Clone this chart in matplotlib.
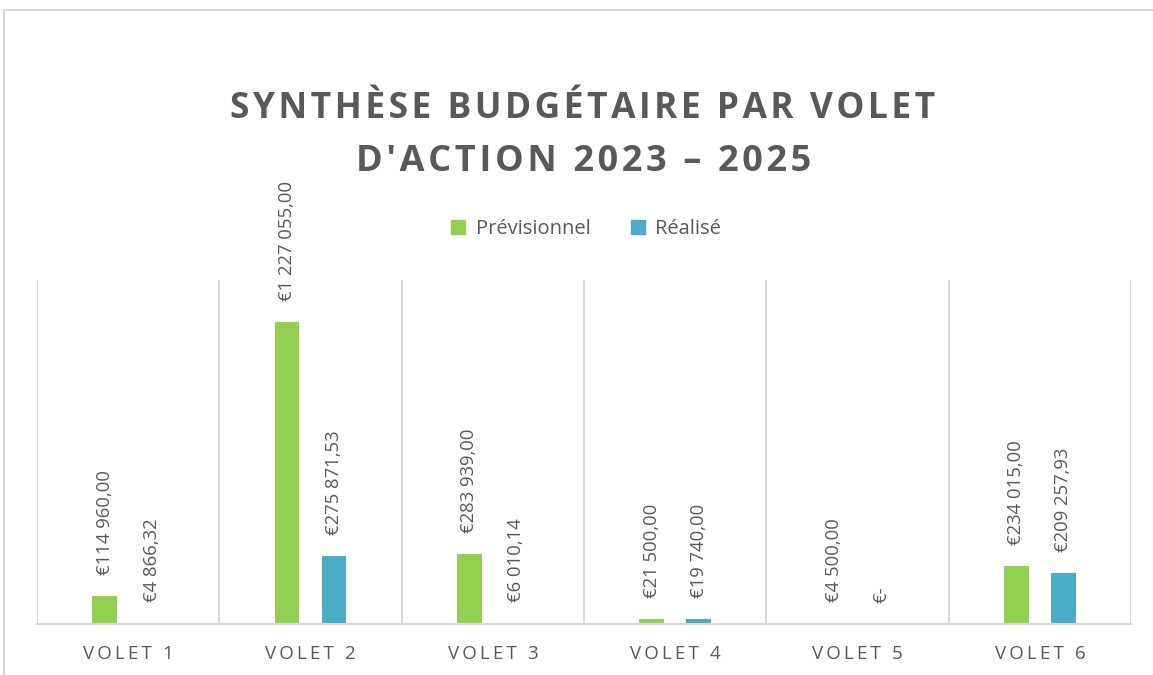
import numpy as np
import matplotlib.pyplot as plt
from matplotlib.lines import Line2D
from matplotlib.patches import Rectangle

categories = ["VOLET 1", "VOLET 2", "VOLET 3", "VOLET 4", "VOLET 5", "VOLET 6"]
previsionnel = [114960.00, 1227055.00, 283939.00, 21500.00, 4500.00, 234015.00]
realise = [4866.32, 275871.53, 6010.14, 19740.00, 0.0, 209257.93]

GREEN = "#92d050"
BLUE = "#4bacc6"
GREY = "#595959"
LINE = "#d9d9d9"
FONT = ["Open Sans", "DejaVu Sans"]


def euro(v):
    if v == 0:
        return "€-"
    s = f"{v:,.2f}"
    s = s.replace(",", " ").replace(".", ",")
    return "€" + s


def spaced(txt, sep="\u200a"):
    return sep.join(txt)


fig = plt.figure(figsize=(11.53, 6.75), dpi=100)
ax = fig.add_axes([37 / 1153, 1 - 624 / 675, (1131 - 37) / 1153, (624 - 280) / 675])

x = np.arange(len(categories))
w = 0.135
off = 0.129
ax.bar(x - off, previsionnel, w, color=GREEN, zorder=2)
ax.bar(x + off, realise, w, color=BLUE, zorder=2)

ax.set_ylim(0, 1.4e6)
ax.set_xlim(-0.5, len(categories) - 0.5)

for b in np.arange(-0.5, len(categories), 1.0):
    ax.axvline(b, color=LINE, lw=1.5, zorder=1)

pad = 1.4e6 * 21 / 344
for xi, v in zip(x - off, previsionnel):
    ax.text(xi, v + pad, euro(v), rotation=90, ha="center", va="bottom",
            fontsize=13.3, color=GREY, family=FONT, zorder=4)
for xi, v in zip(x + off, realise):
    ax.text(xi, v + pad, euro(v), rotation=90, ha="center", va="bottom",
            fontsize=13.3, color=GREY, family=FONT, zorder=4)

for s in ["top", "right", "left"]:
    ax.spines[s].set_visible(False)
ax.spines["bottom"].set_color(LINE)
ax.spines["bottom"].set_linewidth(1.5)
ax.spines["bottom"].set_zorder(3)
ax.set_yticks([])
ax.set_xticks(x)
ax.set_xticklabels([spaced(c, "\u2009") for c in categories], fontsize=13.5,
                   color=GREY, family=FONT)
ax.tick_params(axis="x", length=0, pad=15)

# titre
fig.text(583 / 1153, 1 - 109 / 675, spaced("SYNTHÈSE BUDGÉTAIRE PAR VOLET"),
         ha="center", va="center", fontsize=25.5, fontweight="bold",
         color=GREY, family=FONT)
fig.text(584 / 1153, 1 - 162 / 675, spaced("D'ACTION 2023 – 2025"),
         ha="center", va="center", fontsize=26, fontweight="bold",
         color=GREY, family=FONT)

# legende
handles = [Rectangle((0, 0), 1, 1, color=GREEN), Rectangle((0, 0), 1, 1, color=BLUE)]
fig.legend(handles, ["Prévisionnel", "Réalisé"], loc="center",
           bbox_to_anchor=(586 / 1153, 1 - 229 / 675), ncol=2, frameon=False,
           prop={"family": FONT, "size": 14.5}, labelcolor=GREY,
           handlelength=0.7, handleheight=0.7, handletextpad=0.5,
           columnspacing=2.0)

# cadre du graphique
fig.add_artist(Line2D([4 / 1153, 1], [1 - 10 / 675, 1 - 10 / 675], color=LINE, lw=1.5))
fig.add_artist(Line2D([4 / 1153, 4 / 1153], [0, 1 - 10 / 675], color=LINE, lw=1.5))

fig.savefig("out.png", dpi=100, facecolor="white")
